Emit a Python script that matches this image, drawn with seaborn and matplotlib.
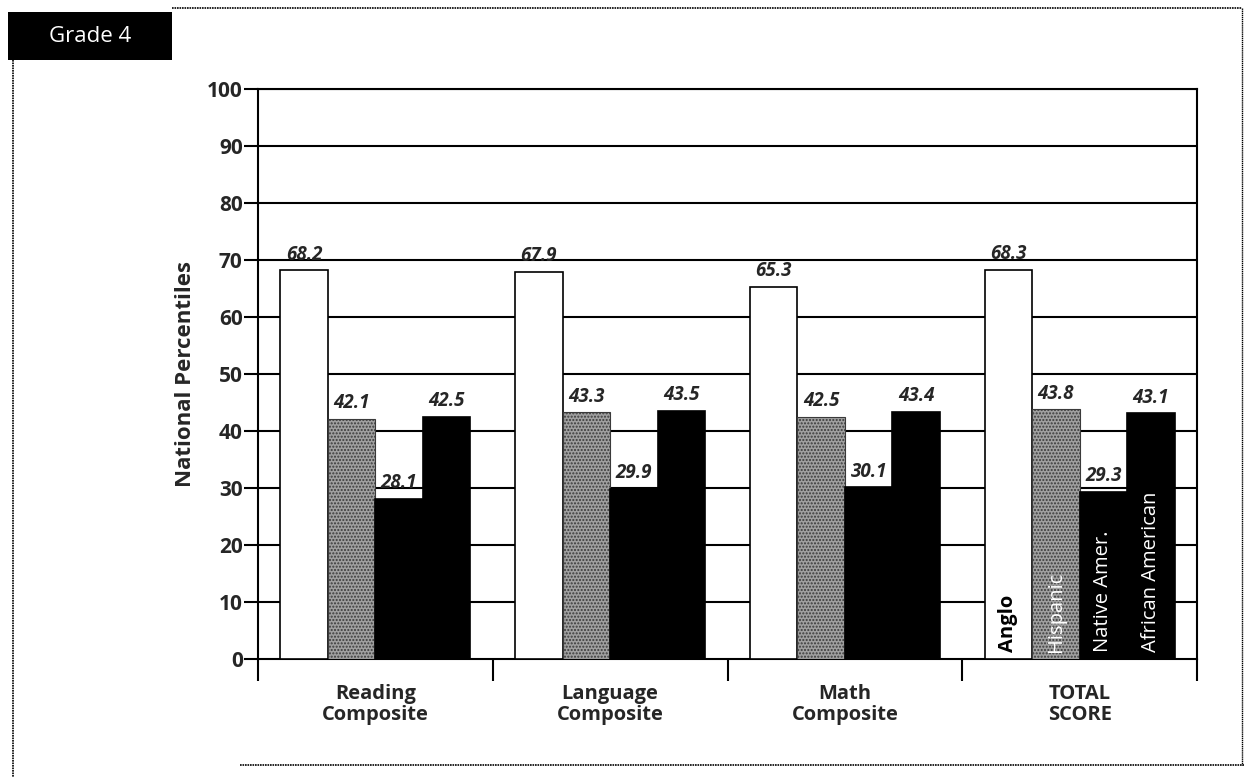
import numpy as np
import pandas as pd
import seaborn as sns
import matplotlib.pyplot as plt
from matplotlib.patches import Rectangle
from matplotlib.lines import Line2D


# values
categories = ['Reading\nComposite', 'Language\nComposite',
              'Math\nComposite', 'TOTAL\nSCORE']
groups = ['Anglo', 'Hispanic', 'Native Amer.', 'African American']
anglo = [68.2, 67.9, 65.3, 68.3]
hispanic = [42.1, 43.3, 42.5, 43.8]
native = [28.1, 29.9, 30.1, 29.3]
african = [42.5, 43.5, 43.4, 43.1]
yticks = list(range(0, 101, 10))

df = pd.DataFrame({
    'category': categories * 4,
    'group': np.repeat(groups, len(categories)),
    'value': anglo + hispanic + native + african,
})

sns.set_style('white')
plt.rcParams['font.family'] = ['Open Sans', 'DejaVu Sans']

fig = plt.figure(figsize=(12.44, 7.77), dpi=100)
ax = fig.add_axes([258/1244, 1-659/777, (1197-258)/1244, (659-89)/777])

palette = ['white', '#a0a0a0', 'black', 'black']
sns.barplot(data=df, x='category', y='value', hue='group', order=categories,
            hue_order=groups, palette=palette, edgecolor='black',
            linewidth=1.2, width=0.81, saturation=1, ax=ax, legend=False,
            zorder=3)

# stipple look for Hispanic bars
for bar in ax.containers[1]:
    bar.set_hatch('.....')
    bar.set_edgecolor('#3a3a3a')
    bar.set_linewidth(0.8)

for cont in ax.containers:
    ax.bar_label(cont, fmt='%.1f', padding=4, fontsize=13.5,
                 fontweight='bold', fontstyle='italic', zorder=4)

# labels inside the TOTAL SCORE bars
txt_colors = ['black', 'white', 'white', 'white']
txt_weights = ['bold', 'normal', 'normal', 'normal']
for i, cont in enumerate(ax.containers):
    b = cont[3]
    ax.text(b.get_x() + b.get_width() / 2, 1.3, groups[i], rotation=90,
            ha='center', va='bottom', color=txt_colors[i],
            fontsize=14.5, fontweight=txt_weights[i], zorder=5)

ax.set_ylim(0, 100)
ax.set_xlim(-0.5, 3.5)
ax.set_yticks(yticks)
ax.set_yticklabels([str(t) for t in yticks], fontsize=15, fontweight='bold')
ax.tick_params(axis='y', left=True, direction='out', length=10, width=1.5,
               color='black', pad=1)
ax.set_xticks(range(len(categories)))
ax.set_xticklabels(categories, fontsize=14.5, fontweight='bold',
                   linespacing=1.05)
ax.tick_params(axis='x', which='major', bottom=False, length=0, pad=18)
ax.set_xticks([-0.5, 0.5, 1.5, 2.5, 3.5], minor=True)
ax.tick_params(axis='x', which='minor', bottom=True, direction='out',
               length=16, width=1.5, color='black')
ax.set_xlabel('')
ax.set_ylabel('National Percentiles', fontsize=16, fontweight='bold',
              labelpad=8)

for y in yticks[1:]:
    ax.axhline(y, color='black', linewidth=1.5, zorder=1)
for s in ax.spines.values():
    s.set_color('black')
    s.set_linewidth(1.5)

# page frame and heading box
fig.add_artist(Rectangle((8/1244, 1-60/777), 164/1244, 48/777,
                         transform=fig.transFigure, facecolor='black',
                         edgecolor='none'))
fig.text(90/1244, 1-36/777, 'Grade 4', color='white', fontsize=16,
         ha='center', va='center')
fig.add_artist(Line2D([172/1244, 1242/1244], [1-8/777, 1-8/777],
                      transform=fig.transFigure, color='black',
                      linewidth=1.2, linestyle=(0, (1, 0.5))))
fig.add_artist(Line2D([1242/1244, 1242/1244], [1-8/777, 1-765/777],
                      transform=fig.transFigure, color='black',
                      linewidth=1.0, linestyle=(0, (1, 0.5))))
fig.add_artist(Line2D([13/1244, 13/1244], [1-60/777, 1-777/777],
                      transform=fig.transFigure, color='black',
                      linewidth=1.2, linestyle=(0, (1, 0.5))))
fig.add_artist(Line2D([240/1244, 1244/1244], [1-765/777, 1-765/777],
                      transform=fig.transFigure, color='black',
                      linewidth=1.2, linestyle=(0, (1, 0.5))))

fig.savefig('out.png', dpi=100)
